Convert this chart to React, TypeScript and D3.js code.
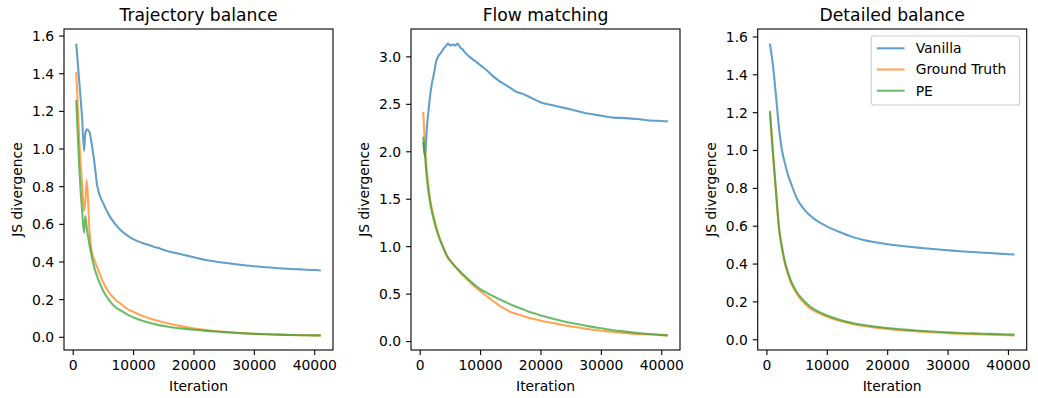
import React from "react";
import * as d3 from "d3";

// ---------- data ----------
const seriesNames = ["Vanilla", "Ground Truth", "PE"];
const colors = ["#1f77b4", "#ff7f0e", "#2ca02c"];

const panelTitles = ["Trajectory balance", "Flow matching", "Detailed balance"];

const xTicks = [0, 10000, 20000, 30000, 40000];
const yTicksTB = [0, 0.2, 0.4, 0.6, 0.8, 1.0, 1.2, 1.4, 1.6];
const yTicksFM = [0, 0.5, 1.0, 1.5, 2.0, 2.5, 3.0];
const yTicksDB = [0, 0.2, 0.4, 0.6, 0.8, 1.0, 1.2, 1.4, 1.6];

// Trajectory balance
const itTB = [500, 1000, 1500, 1800, 2000, 2250, 2700, 3000, 3500, 4000, 5000, 6000, 7000, 8000, 9000, 10000, 12000, 14000, 16000, 18000, 20000, 22000, 24000, 26000, 28000, 30000, 32000, 34000, 36000, 38000, 40000, 41000];
const vanillaTB = [1.56, 1.36, 1.15, 0.99, 1.08, 1.105, 1.09, 1.04, 0.93, 0.80, 0.71, 0.645, 0.60, 0.565, 0.54, 0.52, 0.495, 0.475, 0.455, 0.44, 0.425, 0.41, 0.40, 0.392, 0.384, 0.377, 0.372, 0.367, 0.363, 0.36, 0.357, 0.355];
const truthTB = [1.41, 1.05, 0.80, 0.67, 0.72, 0.835, 0.56, 0.47, 0.41, 0.37, 0.29, 0.235, 0.20, 0.175, 0.15, 0.135, 0.107, 0.088, 0.072, 0.058, 0.047, 0.039, 0.032, 0.027, 0.023, 0.019, 0.016, 0.014, 0.012, 0.011, 0.010, 0.010];
const peTB = [1.26, 0.90, 0.66, 0.556, 0.644, 0.58, 0.49, 0.44, 0.37, 0.32, 0.245, 0.195, 0.16, 0.14, 0.12, 0.105, 0.082, 0.066, 0.055, 0.046, 0.04, 0.034, 0.029, 0.025, 0.021, 0.018, 0.016, 0.014, 0.012, 0.011, 0.010, 0.010];

// Flow matching
const itFM = [500, 800, 1100, 1400, 1700, 2000, 2300, 2600, 3000, 3400, 3800, 4200, 4600, 5000, 5400, 5800, 6200, 6600, 7000, 7500, 8000, 9000, 10000, 11000, 12000, 13000, 14000, 15000, 16000, 17000, 18000, 19000, 20000, 22000, 24000, 26000, 28000, 30000, 32000, 34000, 36000, 38000, 40000, 41000];
const vanillaFM = [2.10, 1.95, 2.25, 2.45, 2.62, 2.74, 2.83, 2.94, 3.01, 3.04, 3.08, 3.11, 3.14, 3.12, 3.13, 3.12, 3.14, 3.10, 3.08, 3.04, 3.01, 2.96, 2.91, 2.86, 2.80, 2.75, 2.71, 2.67, 2.63, 2.61, 2.58, 2.55, 2.52, 2.49, 2.46, 2.43, 2.40, 2.38, 2.36, 2.355, 2.345, 2.33, 2.325, 2.32];
const truthFM = [2.42, 2.05, 1.80, 1.62, 1.48, 1.38, 1.30, 1.22, 1.13, 1.06, 1.00, 0.94, 0.89, 0.85, 0.82, 0.79, 0.76, 0.73, 0.70, 0.67, 0.64, 0.58, 0.53, 0.48, 0.43, 0.385, 0.345, 0.31, 0.29, 0.27, 0.25, 0.235, 0.22, 0.195, 0.17, 0.15, 0.13, 0.115, 0.10, 0.09, 0.08, 0.075, 0.068, 0.065];
const peFM = [2.16, 1.95, 1.72, 1.56, 1.44, 1.35, 1.27, 1.20, 1.12, 1.05, 0.99, 0.93, 0.88, 0.85, 0.82, 0.79, 0.765, 0.74, 0.715, 0.685, 0.655, 0.60, 0.55, 0.515, 0.48, 0.45, 0.42, 0.39, 0.365, 0.34, 0.315, 0.295, 0.275, 0.24, 0.21, 0.185, 0.16, 0.14, 0.12, 0.105, 0.09, 0.08, 0.07, 0.065];

// Detailed balance
const itDB = [500, 1000, 1500, 2000, 2500, 3000, 3500, 4000, 5000, 6000, 7000, 8000, 9000, 10000, 12000, 14000, 16000, 18000, 20000, 22000, 24000, 26000, 28000, 30000, 32000, 34000, 36000, 38000, 40000, 41000];
const vanillaDB = [1.565, 1.45, 1.29, 1.12, 1.00, 0.93, 0.87, 0.825, 0.745, 0.695, 0.66, 0.635, 0.615, 0.598, 0.57, 0.545, 0.527, 0.515, 0.505, 0.497, 0.49, 0.484, 0.478, 0.473, 0.468, 0.464, 0.46, 0.456, 0.452, 0.45];
const truthDB = [1.20, 0.98, 0.78, 0.585, 0.48, 0.40, 0.345, 0.30, 0.24, 0.20, 0.17, 0.15, 0.135, 0.122, 0.10, 0.085, 0.073, 0.064, 0.057, 0.051, 0.046, 0.042, 0.038, 0.035, 0.032, 0.030, 0.028, 0.026, 0.024, 0.023];
const peDB = [1.21, 0.99, 0.79, 0.595, 0.49, 0.41, 0.355, 0.31, 0.25, 0.21, 0.18, 0.158, 0.142, 0.128, 0.106, 0.09, 0.078, 0.069, 0.062, 0.056, 0.051, 0.046, 0.042, 0.039, 0.036, 0.034, 0.032, 0.030, 0.028, 0.027];

// ---------- layout ----------
const W = 1038;
const H = 398;
const FONT = "DejaVu Sans, sans-serif";
const TICK_FS = 13.9;
const TITLE_FS = 17.2;
const panelLefts = [64, 411, 757.7];
const panelWidth = 269;
const top = 29;
const bottom = 350;
const tickLen = 4.9;
const tickPad = 4.9;

type PanelProps = {
  left: number;
  title: string;
  iters: number[];
  series: number[][];
  yTicks: number[];
  legend?: boolean;
};

function Panel({ left, title, iters, series, yTicks, legend }: PanelProps) {
  const right = left + panelWidth;
  const xmin = d3.min(iters)!;
  const xmax = d3.max(iters)!;
  const xr = xmax - xmin;
  const all = series.flat();
  const ymin = d3.min(all)!;
  const ymax = d3.max(all)!;
  const yr = ymax - ymin;
  const x = d3.scaleLinear().domain([xmin - 0.05 * xr, xmax + 0.05 * xr]).range([left, right]);
  const y = d3.scaleLinear().domain([ymin - 0.05 * yr, ymax + 0.05 * yr]).range([bottom, top]);
  const line = d3
    .line<number>()
    .x((_, i) => x(iters[i]))
    .y((d) => y(d))
    .curve(d3.curveMonotoneX);
  const fmt = d3.format(".1f");

  const lgRight = right - 7;
  const lgTop = top + 7;
  const lgW = 148.5;
  const lgH = 69;
  const lgLeft = lgRight - lgW;

  return (
    <g>
      <clipPath id={`clip-${left}`}>
        <rect x={left} y={top} width={panelWidth} height={bottom - top} />
      </clipPath>
      <g clipPath={`url(#clip-${left})`}>
        {series.map((s, k) => (
          <path
            key={k}
            d={line(s) || ""}
            fill="none"
            stroke={colors[k]}
            strokeOpacity={0.7}
            strokeWidth={2.08}
            strokeLinejoin="round"
            strokeLinecap="butt"
          />
        ))}
      </g>
      <rect x={left} y={top} width={panelWidth} height={bottom - top} fill="none" stroke="#000" strokeWidth={1.1} />
      {xTicks.map((t) => (
        <g key={t}>
          <line x1={x(t)} x2={x(t)} y1={bottom} y2={bottom + tickLen} stroke="#000" strokeWidth={1.1} />
          <text x={x(t)} y={bottom + tickLen + tickPad} dy="0.76em" textAnchor="middle" fontSize={TICK_FS} fontFamily={FONT} fill="#000">
            {t}
          </text>
        </g>
      ))}
      {yTicks.map((t) => (
        <g key={t}>
          <line x1={left - tickLen} x2={left} y1={y(t)} y2={y(t)} stroke="#000" strokeWidth={1.1} />
          <text x={left - tickLen - tickPad} y={y(t)} dy="0.35em" textAnchor="end" fontSize={TICK_FS} fontFamily={FONT} fill="#000">
            {fmt(t)}
          </text>
        </g>
      ))}
      <text x={(left + right) / 2} y={20.7} textAnchor="middle" fontSize={TITLE_FS} fontFamily={FONT} fill="#000">
        {title}
      </text>
      <text x={(left + right) / 2} y={386.5} dy="0.35em" textAnchor="middle" fontSize={TICK_FS} fontFamily={FONT} fill="#000">
        Iteration
      </text>
      <text
        transform={`translate(${left - 46.5},${(top + bottom) / 2}) rotate(-90)`}
        dy="0.35em"
        textAnchor="middle"
        fontSize={TICK_FS}
        fontFamily={FONT}
        fill="#000"
      >
        JS divergence
      </text>
      {legend && (
        <g>
          <rect x={lgLeft} y={lgTop} width={lgW} height={lgH} rx={2.8} fill="#fff" fillOpacity={0.8} stroke="#cccccc" strokeWidth={1.1} />
          {seriesNames.map((name, k) => {
            const cy = lgTop + 12.3 + k * 21.2;
            return (
              <g key={name}>
                <line x1={lgLeft + 5.6} x2={lgLeft + 5.6 + 27.8} y1={cy} y2={cy} stroke={colors[k]} strokeOpacity={0.7} strokeWidth={2.08} />
                <text x={lgLeft + 5.6 + 27.8 + 11.1} y={cy} dy="0.35em" fontSize={TICK_FS} fontFamily={FONT} fill="#000">
                  {name}
                </text>
              </g>
            );
          })}
        </g>
      )}
    </g>
  );
}

export default function App() {
  return (
    <svg
      width={W}
      height={H}
      viewBox={`0 0 ${W} ${H}`}
      style={{ position: "absolute", left: 0, top: 0, display: "block", background: "#fff" }}
    >
      <rect x={0} y={0} width={W} height={H} fill="#fff" />
      <Panel left={panelLefts[0]} title={panelTitles[0]} iters={itTB} series={[vanillaTB, truthTB, peTB]} yTicks={yTicksTB} />
      <Panel left={panelLefts[1]} title={panelTitles[1]} iters={itFM} series={[vanillaFM, truthFM, peFM]} yTicks={yTicksFM} />
      <Panel left={panelLefts[2]} title={panelTitles[2]} iters={itDB} series={[vanillaDB, truthDB, peDB]} yTicks={yTicksDB} legend />
    </svg>
  );
}
